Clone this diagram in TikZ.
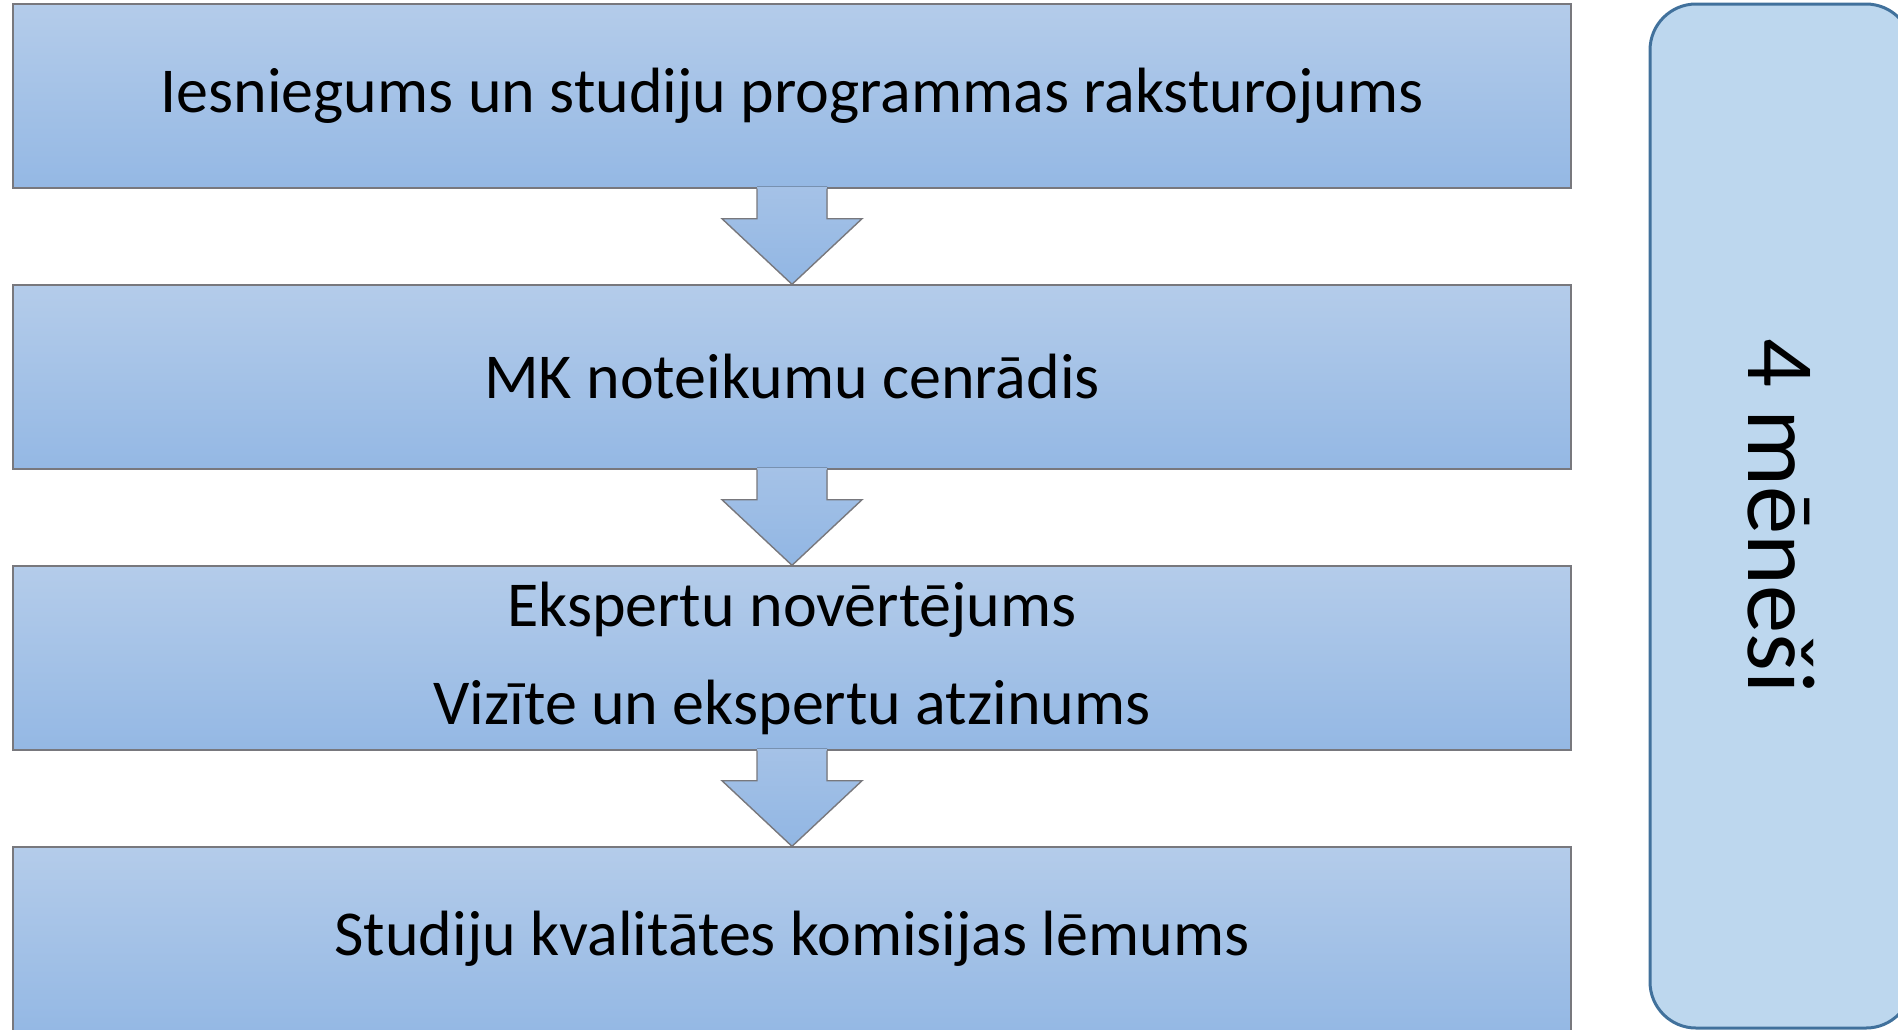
\documentclass[tikz,border=0pt]{standalone}
\usepackage{fontspec}
\setmainfont{Carlito}
\usetikzlibrary{calc}
\definecolor{boxtop}{RGB}{180,204,234}
\definecolor{boxbottom}{RGB}{148,184,228}
\definecolor{arrowtop}{RGB}{165,194,231}
\definecolor{arrowbottom}{RGB}{145,182,227}
\definecolor{boxline}{RGB}{120,120,125}
\definecolor{panelfill}{RGB}{189,215,238}
\definecolor{panelline}{RGB}{65,113,156}

\tikzset{
  stage/.style={rectangle, draw=boxline, line width=0.7pt, top color=boxtop, bottom color=boxbottom,
    minimum width=779pt, minimum height=92pt, inner sep=0pt, align=center,
    font=\fontsize{32}{49}\selectfont},
  panel/.style={rectangle, draw=panelline, line width=1.5pt, fill=panelfill, rounded corners=23pt,
    minimum width=512pt, minimum height=131pt, inner sep=0pt, rotate=-90,
    font=\fontsize{48.3}{58}\selectfont}
}

\begin{document}
\begin{tikzpicture}[x=0.5pt, y=-0.5pt]
  \useasboundingbox (0,0) rectangle (1898,1029);

  % Stages
  \node[stage] (s1) at (792, 96) {Iesniegums un studiju programmas raksturojums};
  \node[stage] (s2) at (792, 377) {MK noteikumu cenrādis};
  \node[stage] (s3) at (792, 658) {Ekspertu novērtējums\\Vizīte un ekspertu atzinums};
  \node[stage] (s4) at (792, 939) {Studiju kvalitātes komisijas lēmums};

  % Block arrows between stages
  \foreach \a/\b in {s1/s2, s2/s3, s3/s4} {
    \fill[top color=arrowtop, bottom color=arrowbottom]
      ($(\a.south)+(-35,-2)$) -- ($(\a.south)+(-35,30)$) -- ($(\a.south)+(-70,30)$) -- (\b.north)
      -- ($(\a.south)+(70,30)$) -- ($(\a.south)+(35,30)$) -- ($(\a.south)+(35,-2)$) -- cycle;
    \draw[boxline, line width=0.7pt, line join=miter]
      ($(\a.south)+(-35,0)$) -- ($(\a.south)+(-35,30)$) -- ($(\a.south)+(-70,30)$) -- (\b.north)
      -- ($(\a.south)+(70,30)$) -- ($(\a.south)+(35,30)$) -- ($(\a.south)+(35,0)$);
  }

  % Duration
  \node[panel] (period) at (1781, 516) {4 mēneši};
\end{tikzpicture}
\end{document}
